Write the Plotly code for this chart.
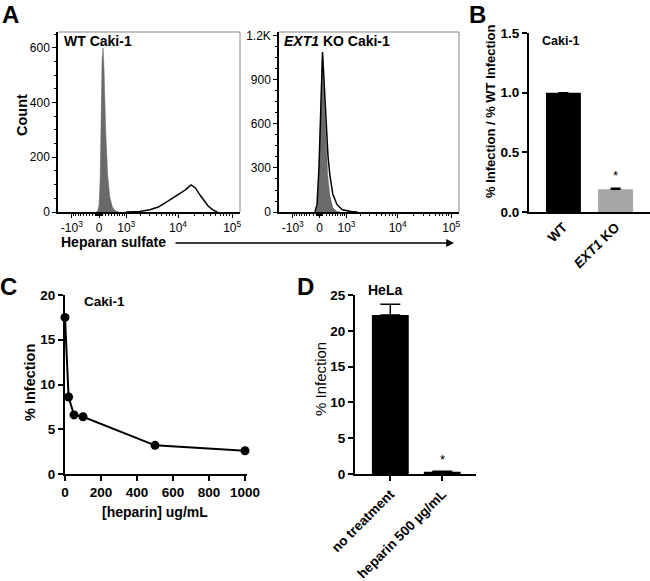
import numpy as np
import plotly.graph_objects as go

# ---------------- data ----------------
# Panel A (flow cytometry histograms), fluorescence intensity vs count
wt_ctrl_v = [-80, -40, 0, 30, 60, 90, 120, 150, 200, 260, 330, 420, 520, 650]
wt_ctrl_c = [0, 5, 25, 110, 330, 560, 600, 520, 300, 140, 55, 18, 5, 0]
wt_hs_v = [1000, 1900, 3000, 4300, 6300, 8500, 10900, 13500, 17400, 21000, 25500, 30000, 36000, 44000, 53000]
wt_hs_c = [0, 2, 8, 18, 38, 55, 68, 80, 99, 88, 62, 42, 22, 8, 0]
ko_ctrl_v = [-120, -70, -20, 40, 85, 130, 190, 250, 320, 420, 550, 700]
ko_ctrl_c = [0, 40, 250, 700, 1050, 820, 480, 250, 110, 30, 5, 0]
ko_hs_v = [-140, -78, -18, 42, 88, 133, 195, 258, 321, 420, 575, 800, 1260, 1700]
ko_hs_c = [0, 50, 300, 750, 1090, 900, 600, 380, 250, 120, 50, 15, 3, 0]
flow_tick_vals = [-1000, 0, 1000, 10000, 100000]
flow_tick_text = ["-10<sup>3</sup>", "0", "10<sup>3</sup>", "10<sup>4</sup>", "10<sup>5</sup>"]
wt_count_ticks = [0, 200, 400, 600]
ko_count_ticks = [0, 300, 600, 900, 1200]
ko_count_text = ["0", "300", "600", "900", "1.2K"]

# Panel B
b_cats = ["WT", "<i>EXT1</i> KO"]
b_vals = [1.0, 0.19]
b_err = [0.0, 0.01]

# Panel C
c_heparin = [0, 20, 50, 100, 500, 1000]
c_infection = [17.5, 8.6, 6.6, 6.4, 3.2, 2.6]

# Panel D
d_cats = ["no treatment", "heparin 500 µg/mL"]
d_vals = [22.2, 0.3]
d_err = [1.5, 0.1]

# ---------------- helpers ----------------
W, H = 650, 581
FONT = "Arial, Liberation Sans, sans-serif"
WBIG = 700.0


def T(v):
    return np.arcsinh(np.asarray(v, dtype=float) / WBIG) / np.log(10)


def dx(a, b):
    return [a / W, b / W]


def dy(top, bottom):
    return [1 - bottom / H, 1 - top / H]


def px(p):
    return p / W


def py(p):
    return 1 - p / H


minor_vals = []
for s in (1, -1):
    for m in range(1, 10):
        minor_vals.append(s * m * 10)
        minor_vals.append(s * m * 100)
for m in range(2, 10):
    minor_vals += [m * 1000, m * 10000]
minor_pos = list(T(minor_vals))

fig = go.Figure()

# Panel A left
fig.add_trace(go.Scatter(x=T(wt_ctrl_v), y=wt_ctrl_c, mode="lines", fill="tozeroy",
                         line=dict(color="#6a6a6a", width=0.5), fillcolor="#6a6a6a",
                         xaxis="x", yaxis="y", showlegend=False))
fig.add_trace(go.Scatter(x=T(wt_hs_v), y=wt_hs_c, mode="lines",
                         line=dict(color="black", width=1.5),
                         xaxis="x", yaxis="y", showlegend=False))
# Panel A right
fig.add_trace(go.Scatter(x=T(ko_ctrl_v), y=ko_ctrl_c, mode="lines", fill="tozeroy",
                         line=dict(color="#6a6a6a", width=0.5), fillcolor="#6a6a6a",
                         xaxis="x2", yaxis="y2", showlegend=False))
fig.add_trace(go.Scatter(x=T(ko_hs_v), y=ko_hs_c, mode="lines",
                         line=dict(color="black", width=1.5),
                         xaxis="x2", yaxis="y2", showlegend=False))
# Panel B
fig.add_trace(go.Bar(x=b_cats, y=b_vals, width=0.67, marker=dict(color=["black", "#a6a6a6"], line=dict(width=0)),
                     error_y=dict(type="data", array=b_err, arrayminus=[0, 0], symmetric=False,
                                  color="black", thickness=1.5, width=5),
                     xaxis="x3", yaxis="y3", showlegend=False))
# Panel C
fig.add_trace(go.Scatter(x=c_heparin, y=c_infection, mode="lines+markers",
                         line=dict(color="black", width=2), marker=dict(color="black", size=9),
                         cliponaxis=False, xaxis="x4", yaxis="y4", showlegend=False))
# Panel D
fig.add_trace(go.Bar(x=d_cats, y=d_vals, width=0.71, marker=dict(color="black", line=dict(width=0)),
                     error_y=dict(type="data", array=d_err, arrayminus=[0, 0], symmetric=False,
                                  color="black", thickness=1.5, width=10),
                     xaxis="x5", yaxis="y5", showlegend=False))

xr = [-0.757, 2.6]
tickfA = dict(family=FONT, size=12, color="black")
tickfB = dict(family=FONT, size=13.5, color="black", weight="bold")

flow_x = dict(range=xr, tickmode="array", tickvals=list(T(flow_tick_vals)), ticktext=flow_tick_text,
              ticks="outside", ticklen=4, tickwidth=1.2, tickcolor="black", showline=True,
              linecolor="black", linewidth=1.5, showgrid=False, zeroline=False, tickfont=tickfA,
              automargin=False,
              minor=dict(tickmode="array", tickvals=minor_pos, ticks="outside", ticklen=2.5,
                         tickcolor="black", tickwidth=1, showgrid=False))

common = dict(showgrid=False, zeroline=False, automargin=False, showline=True, linecolor="black")

fig.update_layout(
    template="none",
    width=W, height=H, margin=dict(l=0, r=0, t=0, b=0, autoexpand=False),
    paper_bgcolor="white", plot_bgcolor="white",
    font=dict(family=FONT, color="black"),
    xaxis=dict(domain=dx(58, 240), anchor="y", **flow_x),
    yaxis=dict(domain=dy(32, 212), anchor="x", range=[0, 658], tickmode="array", tickvals=wt_count_ticks,
               ticks="outside", ticklen=4, tickwidth=1.2, tickcolor="black", linewidth=1.5, tickfont=tickfA,
               minor=dict(dtick=50, ticks="outside", ticklen=2.5, tickcolor="black", tickwidth=1,
                          showgrid=False), **common),
    xaxis2=dict(domain=dx(279, 459), anchor="y2", **flow_x),
    yaxis2=dict(domain=dy(32, 212), anchor="x2", range=[0, 1227], tickmode="array", tickvals=ko_count_ticks,
                ticktext=ko_count_text, ticks="outside", ticklen=4, tickwidth=1.2, tickcolor="black",
                linewidth=1.5, tickfont=tickfA,
                minor=dict(dtick=75, ticks="outside", ticklen=2.5, tickcolor="black", tickwidth=1,
                           showgrid=False), **common),
    xaxis3=dict(domain=dx(529, 650), anchor="y3", range=[-0.66, 1.66], linewidth=2, ticks="",
                tickangle=-45, tickfont=tickfB, **common),
    yaxis3=dict(domain=dy(33, 212), anchor="x3", range=[0, 1.5], tickvals=[0, 0.5, 1.0, 1.5],
                ticktext=["0.0", "0.5", "1.0", "1.5"], ticks="outside", ticklen=5, tickwidth=2,
                tickcolor="black", linewidth=2, tickfont=tickfB, **common),
    xaxis4=dict(domain=dx(65, 247), anchor="y4", range=[0, 1011], tickvals=[0, 200, 400, 600, 800, 1000],
                ticks="outside", ticklen=5, tickwidth=2, tickcolor="black", linewidth=2, tickfont=tickfB,
                **common),
    yaxis4=dict(domain=dy(295, 474), anchor="x4", range=[0, 20], tickvals=[0, 5, 10, 15, 20],
                ticks="outside", ticklen=5, tickwidth=2, tickcolor="black", linewidth=2, tickfont=tickfB,
                **common),
    xaxis5=dict(domain=dx(355, 476), anchor="y5", range=[-0.68, 1.65], linewidth=2, ticks="outside",
                ticklen=5, tickwidth=2, tickcolor="black", tickangle=-45, tickfont=tickfB, **common),
    yaxis5=dict(domain=dy(295, 474), anchor="x5", range=[0, 25], tickvals=[0, 5, 10, 15, 20, 25],
                ticks="outside", ticklen=5, tickwidth=2, tickcolor="black", linewidth=2, tickfont=tickfB,
                **common),
)

# frames for flow panels (top/right edges)
for ax in ("", "2"):
    fig.add_shape(type="line", xref=f"x{ax} domain", yref=f"y{ax} domain", x0=0, x1=1, y0=1, y1=1,
                  line=dict(color="#888888", width=1))
    fig.add_shape(type="line", xref=f"x{ax} domain", yref=f"y{ax} domain", x0=1, x1=1, y0=0, y1=1,
                  line=dict(color="#888888", width=1))

annots = []


def ann(text, x, y, size, xanchor="center", yanchor="middle", angle=0, **kw):
    annots.append(dict(text=text, x=px(x), y=py(y), xref="paper", yref="paper", showarrow=False,
                       xanchor=xanchor, yanchor=yanchor, textangle=angle,
                       font=dict(family=FONT, size=size, color="black"), **kw))


# panel letters
ann("<b>A</b>", 0, -1, 24, xanchor="left", yanchor="top")
ann("<b>B</b>", 467, -1, 24, xanchor="left", yanchor="top")
ann("<b>C</b>", -2, 271, 24, xanchor="left", yanchor="top")
ann("<b>D</b>", 295, 271, 24, xanchor="left", yanchor="top")

# panel A texts
ann("<b>WT Caki-1</b>", 62, 41, 14, xanchor="left")
ann("<b><i>EXT1</i> KO Caki-1</b>", 282, 41, 14, xanchor="left")
ann("<b>Count</b>", 22, 115, 14.5, angle=-90)
ann("<b>Heparan sulfate</b>", 59, 242, 14, xanchor="left")
annots.append(dict(x=px(454), y=py(243), xref="paper", yref="paper", ax=-280, ay=0, text="",
                   showarrow=True, arrowhead=2, arrowsize=1.2, arrowwidth=1.3, arrowcolor="black"))

# panel B texts
ann("<b>Caki-1</b>", 540, 41, 12.5, xanchor="left")
ann("<b>% Infection / % WT Infection</b>", 491, 112, 13, angle=-90)

# panel C texts
ann("<b>Caki-1</b>", 82, 301, 13.5, xanchor="left")
ann("<b>% Infection</b>", 30, 383, 14.5, angle=-90)
ann("<b>[heparin] ug/mL</b>", 155, 512, 14)

# panel D texts
ann("<b>HeLa</b>", 366, 290, 14, xanchor="left")
ann("% Infection", 320, 379, 15, angle=-90)

# asterisks (data-anchored)
annots.append(dict(text="*", x=b_cats[1], y=b_vals[1] + b_err[1], xref="x3", yref="y3", showarrow=False,
                   yanchor="bottom", yshift=3, font=dict(family=FONT, size=13, color="black")))
annots.append(dict(text="*", x=d_cats[1], y=d_vals[1] + d_err[1], xref="x5", yref="y5", showarrow=False,
                   yanchor="bottom", yshift=2, font=dict(family=FONT, size=13, color="black")))

fig.update_layout(annotations=annots)
fig.write_html("out.html", config={"displayModeBar": False},
               post_script="document.body.style.margin='0';document.body.style.overflow='hidden';")
